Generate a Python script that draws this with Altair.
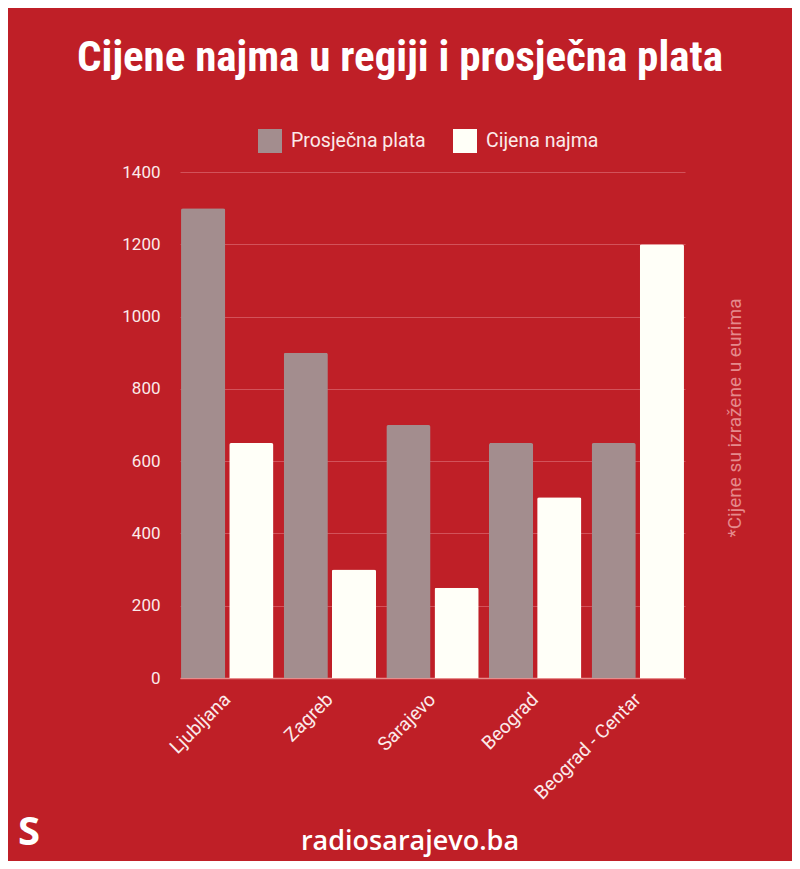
import altair as alt
import pandas as pd

cities = ["Ljubljana", "Zagreb", "Sarajevo", "Beograd", "Beograd - Centar"]
plata = [1300, 900, 700, 650, 650]
najam = [650, 300, 250, 500, 1200]
series = ["Prosječna plata", "Cijena najma"]

title_text = "Cijene najma u regiji i prosječna plata"
note_text = "*Cijene su izražene u eurima"
footer_text = "radiosarajevo.ba"

rows = []
for c, p, n in zip(cities, plata, najam):
    rows.append({"grad": c, "serija": series[0], "vrijednost": p})
    rows.append({"grad": c, "serija": series[1], "vrijednost": n})
df = pd.DataFrame(rows)

BG = "#BF1F27"
GRAY = "#A38D8E"
WHITE = "#FFFFF8"

W, H = 505, 506

bars = alt.Chart(df).mark_bar(cornerRadiusTopLeft=2, cornerRadiusTopRight=2).encode(
    x=alt.X("grad:N", sort=cities, title=None,
            scale=alt.Scale(paddingInner=0.1, paddingOuter=0.01),
            axis=alt.Axis(labelAngle=-45, labelAlign="right", labelBaseline="middle",
                          labelFontSize=19, labelColor="#FBEAEA", labelFont="Roboto",
                          ticks=False, domain=True, domainColor="#E88C8C", domainWidth=1.5,
                          labelPadding=18, grid=False)),
    xOffset=alt.XOffset("serija:N", sort=series, scale=alt.Scale(paddingInner=0.083)),
    y=alt.Y("vrijednost:Q", title=None,
            scale=alt.Scale(domain=[0, 1400]),
            axis=alt.Axis(values=[0, 200, 400, 600, 800, 1000, 1200, 1400], format="d",
                          labelFontSize=17, labelColor="#FBEAEA", labelFont="Roboto",
                          ticks=False, domain=False, labelPadding=20,
                          gridColor="#D2525A", gridWidth=1)),
    color=alt.Color("serija:N", sort=series,
                    scale=alt.Scale(domain=series, range=[GRAY, WHITE]),
                    legend=alt.Legend(title=None, orient="none", direction="horizontal",
                                      legendX=78, legendY=-43,
                                      symbolType="square", symbolSize=576,
                                      symbolStrokeWidth=0, symbolOpacity=1,
                                      labelFontSize=19.5, labelColor="#FBEAEA",
                                      labelFont="Roboto", columnPadding=27,
                                      labelOffset=9)),
)

one = pd.DataFrame({"k": [0]})

title = alt.Chart(one).mark_text(
    text=title_text, font="Roboto Condensed, Liberation Sans Narrow, DejaVu Sans Condensed, Roboto",
    fontWeight="bold", fontSize=43, color="white", align="center", baseline="middle"
).encode(x=alt.value(400 - 180), y=alt.value(58 - 172))

note = alt.Chart(one).mark_text(
    text=note_text, font="Roboto", fontSize=19, color="#E58A8C", angle=270,
    align="center", baseline="middle"
).encode(x=alt.value(735 - 180), y=alt.value(418 - 172))

footer = alt.Chart(one).mark_text(
    text=footer_text, font="Open Sans", fontWeight=600, fontSize=27, color="white",
    align="center", baseline="middle"
).encode(x=alt.value(410 - 180), y=alt.value(842 - 172))

logo = alt.Chart(one).mark_text(
    text="S", font="Open Sans", fontWeight="bold", fontSize=40, color="white",
    align="center", baseline="middle"
).encode(x=alt.value(29 - 180), y=alt.value(833 - 172))

chart = alt.layer(bars, title, note, footer, logo).properties(
    width=W, height=H,
    autosize=alt.AutoSizeParams(type="none"),
    padding={"left": 172, "top": 164, "right": 107, "bottom": 183},
    background=BG,
).configure_view(stroke=None)

chart.save("out.html", embed_options={"renderer": "svg", "actions": False})
